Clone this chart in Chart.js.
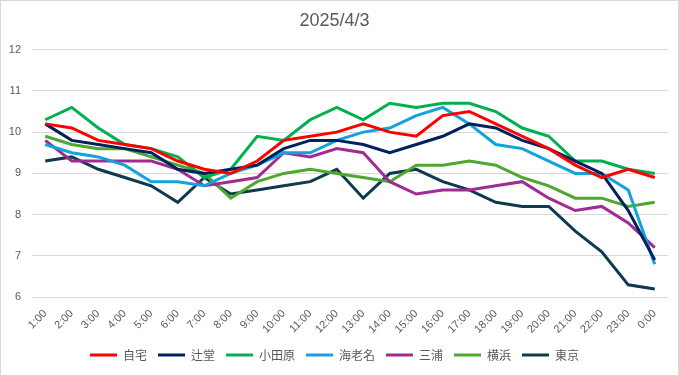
<!DOCTYPE html>
<html>
<head>
<meta charset="utf-8">
<script src="https://cdn.jsdelivr.net/npm/chart.js@4"></script>
<style>
  html, body { margin: 0; padding: 0; background: #fff; }
  #wrap { position: relative; width: 679px; height: 376px; box-sizing: border-box; border: 1px solid #d9d9d9; }
</style>
</head>
<body>
<div id="wrap"><canvas id="chart"></canvas></div>
<script>
var hours = ['1:00', '2:00', '3:00', '4:00', '5:00', '6:00', '7:00', '8:00', '9:00', '10:00', '11:00', '12:00',
    '13:00', '14:00', '15:00', '16:00', '17:00', '18:00', '19:00', '20:00', '21:00', '22:00', '23:00', '0:00'];

var jitaku    = [10.2, 10.1, 9.8, 9.7, 9.6, 9.3, 9.1, 9.0, 9.3, 9.8, 9.9, 10.0, 10.2, 10.0, 9.9, 10.4, 10.5, 10.2, 9.9, 9.6, 9.2, 8.9, 9.1, 8.9];
var tsujido   = [10.2, 9.8, 9.7, 9.6, 9.5, 9.1, 9.0, 9.1, 9.2, 9.6, 9.8, 9.8, 9.7, 9.5, 9.7, 9.9, 10.2, 10.1, 9.8, 9.6, 9.3, 9.0, 8.1, 6.9];
var odawara   = [10.3, 10.6, 10.1, 9.7, 9.6, 9.4, 8.9, 9.1, 9.9, 9.8, 10.3, 10.6, 10.3, 10.7, 10.6, 10.7, 10.7, 10.5, 10.1, 9.9, 9.3, 9.3, 9.1, 9.0];
var ebina     = [9.7, 9.5, 9.4, 9.2, 8.8, 8.8, 8.7, 9.0, 9.2, 9.5, 9.5, 9.8, 10.0, 10.1, 10.4, 10.6, 10.2, 9.7, 9.6, 9.3, 9.0, 9.0, 8.6, 6.8];
var miura     = [9.8, 9.3, 9.3, 9.3, 9.3, 9.1, 8.7, 8.8, 8.9, 9.5, 9.4, 9.6, 9.5, 8.8, 8.5, 8.6, 8.6, 8.7, 8.8, 8.4, 8.1, 8.2, 7.8, 7.2];
var yokohama  = [9.9, 9.7, 9.6, 9.6, 9.4, 9.2, 9.0, 8.4, 8.8, 9.0, 9.1, 9.0, 8.9, 8.8, 9.2, 9.2, 9.3, 9.2, 8.9, 8.7, 8.4, 8.4, 8.2, 8.3];
var tokyo     = [9.3, 9.4, 9.1, 8.9, 8.7, 8.3, 8.9, 8.5, 8.6, 8.7, 8.8, 9.1, 8.4, 9.0, 9.1, 8.8, 8.6, 8.3, 8.2, 8.2, 7.6, 7.1, 6.3, 6.2];

var seriesNames = ['自宅', '辻堂', '小田原', '海老名', '三浦', '横浜', '東京'];
var seriesData = [jitaku, tsujido, odawara, ebina, miura, yokohama, tokyo];
var seriesColors = ['#ff0000', '#002060', '#00b050', '#12a3dc', '#a02b93', '#4ea72e', '#0e3a4f'];

var textColor = '#595959';
var fontFamily = '"Liberation Sans", "Noto Sans CJK JP", sans-serif';

var datasets = [];
for (var i = 0; i < seriesNames.length; ++i) {
    datasets.push({
        label: seriesNames[i],
        data: seriesData[i],
        borderColor: seriesColors[i],
        backgroundColor: seriesColors[i],
        borderWidth: 3,
        pointRadius: 0,
        pointHoverRadius: 0,
        fill: false,
        tension: 0
    });
}

new Chart(document.getElementById('chart'), {
    type: 'line',
    data: {
        labels: hours,
        datasets: datasets
    },
    options: {
        responsive: true,
        maintainAspectRatio: false,
        animation: false,
        layout: { padding: { left: 0, right: 10, top: 6, bottom: 4 } },
        plugins: {
            title: {
                display: true,
                text: '2025/4/3',
                color: textColor,
                font: { family: fontFamily, size: 18, weight: 'normal' },
                padding: { top: 3, bottom: 18 }
            },
            legend: {
                position: 'bottom',
                labels: {
                    color: textColor,
                    font: { family: '"Noto Sans CJK JP", sans-serif', size: 12 },
                    boxWidth: 27,
                    boxHeight: 3,
                    padding: 11,
                    generateLabels: function (chart) {
                        var items = Chart.defaults.plugins.legend.labels.generateLabels(chart);
                        items.forEach(function (it) { it.lineWidth = 0; });
                        return items;
                    }
                }
            },
            tooltip: { enabled: false }
        },
        scales: {
            x: {
                offset: true,
                grid: { display: false },
                border: { display: false },
                ticks: {
                    color: textColor,
                    font: { family: fontFamily, size: 11 },
                    maxRotation: 45,
                    minRotation: 45,
                    autoSkip: false,
                    padding: 2
                }
            },
            y: {
                min: 6,
                max: 12,
                grid: { color: '#d9d9d9', lineWidth: 1, drawTicks: false },
                border: { display: false },
                afterFit: function (scale) { scale.width = 31; },
                ticks: {
                    stepSize: 1,
                    color: textColor,
                    font: { family: fontFamily, size: 11 },
                    padding: 11
                }
            }
        }
    }
});
</script>
</body>
</html>
